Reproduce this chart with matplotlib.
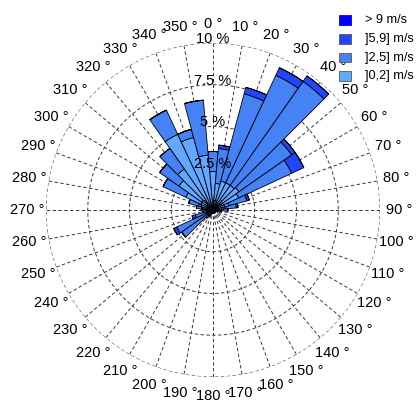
import numpy as np
import matplotlib
matplotlib.use("Agg")
import matplotlib.pyplot as plt
from matplotlib.patches import Rectangle

plt.rcParams['font.family'] = ['Liberation Sans', 'DejaVu Sans']

# ---- data -------------------------------------------------------------
directions = list(range(0, 360, 10))
speed_classes = [']0,2] m/s', ']2,5] m/s', ']5,9] m/s', '> 9 m/s']

# frequency (%) per direction for each speed class
f_0_2 = [2.3, 1.6, 1.8, 1.8, 1.8, 1.9, 1.7, 1.0, 0.8, 0.5, 0.3, 0.2,
         0.2, 0.2, 0.2, 0.2, 0.2, 0.2, 0.2, 0.2, 0.2, 0.3, 0.4, 0.4,
         0.4, 0.4, 0.3, 0.4, 0.6, 0.9, 1.8, 2.5, 3.0, 5.0, 4.5, 3.3]
f_2_5 = [1.2, 2.1, 5.4, 7.1, 7.6, 3.85, 3.5, 1.1, 0.6, 0.4, 0.2, 0.1,
         0.0, 0.0, 0.0, 0.0, 0.0, 0.0, 0.0, 0.0, 0.1, 0.1, 0.2, 1.9,
         2.0, 0.7, 0.3, 0.3, 0.4, 0.6, 1.5, 1.4, 1.5, 1.6, 0.5, 3.3]
f_5_9 = [0.0, 0.2, 0.4, 0.5, 0.4, 0.25, 0.8, 0.15, 0.1, 0.0, 0.0, 0.0,
         0.0, 0.0, 0.0, 0.0, 0.0, 0.0, 0.0, 0.0, 0.0, 0.0, 0.0, 0.0,
         0.2, 0.2, 0.0, 0.0, 0.0, 0.0, 0.0, 0.0, 0.0, 0.0, 0.0, 0.0]
f_gt9 = [0.0] * 36

series = [f_0_2, f_2_5, f_5_9, f_gt9]
colors = ['#62A8FF', '#4482F5', '#2246FF', '#0000FF']

radial_ticks = [2.5, 5, 7.5, 10]
radial_labels = ['2.5 %', '5 %', '7.5 %', '10 %']
angle_labels = [f'{d} °' for d in directions]

# ---- figure -----------------------------------------------------------
W, H = 416, 400
fig = plt.figure(figsize=(W / 100, H / 100), dpi=100)
cx, cy, R = 213, 210, 167
ax = fig.add_axes([(cx - R) / W, (H - cy - R) / H, 2 * R / W, 2 * R / H],
                  projection='polar')
ax.set_theta_zero_location('N')
ax.set_theta_direction(-1)
ax.set_ylim(0, 10)
ax.grid(False)
ax.spines['polar'].set_visible(False)
ax.set_xticks([])
ax.set_yticks([])
ax.patch.set_alpha(0)

gcol = '#3a3a3a'
# spokes
for d in directions:
    t = np.deg2rad(d)
    ax.plot([t, t], [0, 10], color=gcol, lw=0.7, ls=(0, (3.5, 2.5)), zorder=1)
# circles
tt = np.linspace(0, 2 * np.pi, 400)
for r in radial_ticks:
    ax.plot(tt, np.full_like(tt, r), color=gcol, lw=0.7, ls=(0, (3.5, 2.5)), zorder=1)

# stacked bars
theta = np.deg2rad(directions)
width = np.deg2rad(10)
bottom = np.zeros(len(directions))
for vals, c in zip(series, colors):
    v = np.array(vals)
    ax.bar(theta, v, width=width, bottom=bottom, color=c, edgecolor='black',
           linewidth=0.6, zorder=2)
    bottom += v

fs = 10.5
# radial labels
for r, lab in zip(radial_ticks, radial_labels):
    ax.text(0, r + 0.25, lab, ha='center', va='center', fontsize=fs, zorder=5)
ax.text(0, 0.25, '0 %', ha='center', va='center', fontsize=fs, zorder=5)

# angle labels
for d, lab in zip(directions, angle_labels):
    ax.text(np.deg2rad(d), 11.15, lab, ha='center', va='center', fontsize=fs,
            clip_on=False)

# legend (manual)
leg_labels = speed_classes[::-1]
leg_colors = colors[::-1]
for i, (lab, c) in enumerate(zip(leg_labels, leg_colors)):
    ytop = 15.3 + i * 18.7
    fig.add_artist(Rectangle((339 / W, 1 - (ytop + 9.5) / H), 12 / W, 9.5 / H,
                             transform=fig.transFigure, facecolor=c,
                             edgecolor='#555555' if i else c, lw=0.6))
    fig.text(365 / W, 1 - (ytop + 4.8) / H, lab, ha='left', va='center',
             fontsize=9.2)

fig.savefig('out.png', dpi=100)
